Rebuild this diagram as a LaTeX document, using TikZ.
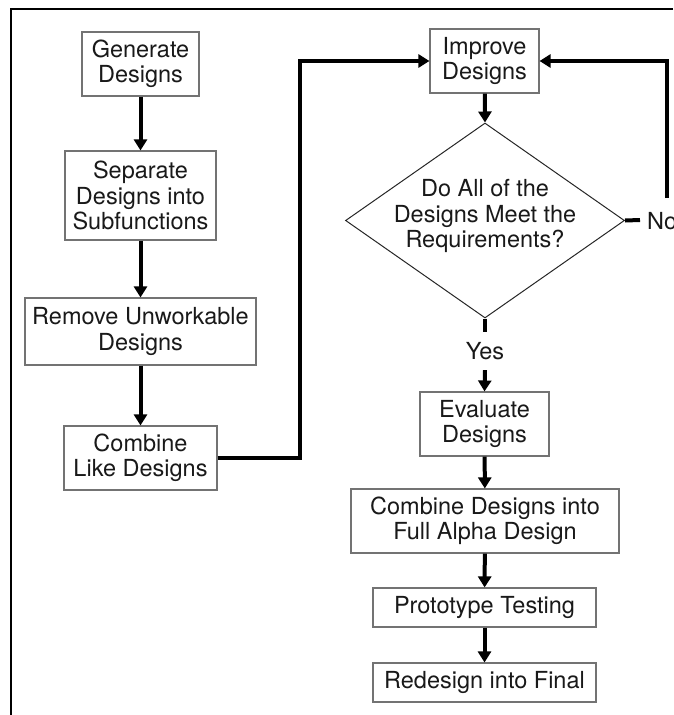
\documentclass[tikz,border=0pt]{standalone}
\usepackage{fontspec}
\setmainfont{TeX Gyre Heros}
\usetikzlibrary{shapes.geometric,arrows.meta}
\begin{document}
\begin{tikzpicture}[x=1pt,y=-1pt,
  every node/.style={font=\fontsize{23.5}{25.5}\selectfont, text=black!90, align=center},
  stepbox/.style={draw=black!55, line width=1.1pt, inner sep=0pt, fill=white},
  decision/.style={diamond, draw=black!85, line width=1pt, inner sep=0pt},
  flow/.style={line width=4pt, -{Triangle[width=13pt,length=11pt]}},
  plain/.style={line width=4pt},
  frameline/.style={line width=1.6pt, black}]
\useasboundingbox (0,0) rectangle (673,715);
% outer frame (top and left edges)
\draw[frameline] (673,9) -- (11,9) -- (11,715);

% left column
\node[stepbox, minimum width=117pt, minimum height=64pt] (gen) at (140.5,64) {Generate\\Designs};
\node[stepbox, minimum width=151pt, minimum height=89pt] (sep) at (140.5,195.5) {Separate\\Designs into\\Subfunctions};
\node[stepbox, minimum width=231pt, minimum height=67pt] (rem) at (140.5,331.5) {Remove Unworkable\\Designs};
\node[stepbox, minimum width=153pt, minimum height=64pt] (comb) at (140.5,458) {Combine\\Like Designs};

% right column
\node[stepbox, minimum width=109pt, minimum height=64pt] (imp) at (484.5,61) {Improve\\Designs};
\node[decision, minimum width=279pt, minimum height=195pt] (dec) at (485,220.5) {};
\node (dectext) at (485,216) {Do All of the\\Designs Meet the\\Requirements?};
\node[inner sep=0pt, minimum height=38pt] (yes) at (485,351) {Yes};
\node[anchor=west, inner sep=0pt] (no) at (647,221) {No};
\node[stepbox, minimum width=129pt, minimum height=64pt] (eval) at (484.5,424) {Evaluate\\Designs};
\node[stepbox, minimum width=268pt, minimum height=64pt] (full) at (485,521) {Combine Designs into\\Full Alpha Design};
\node[stepbox, minimum width=223pt, minimum height=39pt] (proto) at (484.5,607.5) {Prototype Testing};
\node[stepbox, minimum width=223pt, minimum height=39pt] (redes) at (484.5,682.5) {Redesign into Final};

% connectors
\draw[flow] (gen) -- (sep);
\draw[flow] (sep) -- (rem);
\draw[flow] (rem) -- (comb);
\draw[flow] (comb.east) -- (300,458) |- (imp.west);
\draw[flow] (imp) -- (dec.north);
\draw[plain] (dec.south) -- (yes.north);
\draw[flow] (yes.south) -- (eval.north);
\draw[flow] (eval) -- (full);
\draw[flow] (full) -- (proto);
\draw[flow] (proto) -- (redes);
\coordinate (notick) at (640,220);
\draw[plain] (dec.east) -- (notick);
\coordinate (loopfoot) at (667,198);
\draw[flow] (loopfoot) |- (imp.east);
\end{tikzpicture}
\end{document}
